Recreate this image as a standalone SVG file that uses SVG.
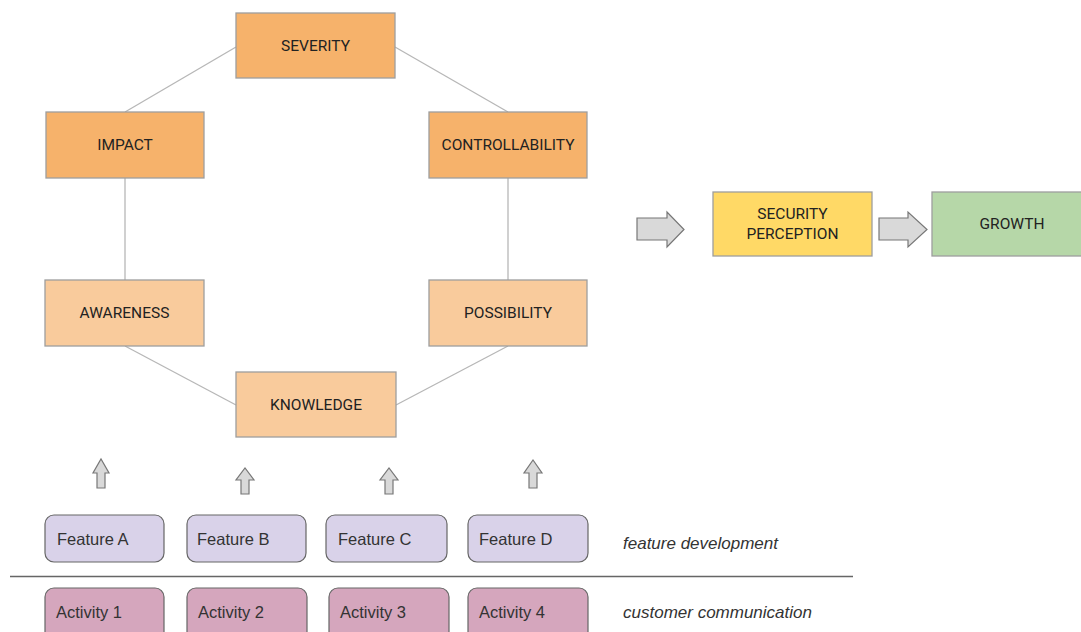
<svg xmlns="http://www.w3.org/2000/svg" width="1081" height="632" viewBox="0 0 1081 632">
<style>
.box{stroke:#9e9e9e;stroke-width:1.3}
.o1{fill:#f6b26b}
.o2{fill:#f9cb9c}
.y{fill:#ffd966}
.g{fill:#b6d7a8}
.f{fill:#d9d2e9;stroke:#666;stroke-width:1.2}
.a{fill:#d5a6bd;stroke:#666;stroke-width:1.2}
.lbl{font-family:Roboto,"Liberation Sans",sans-serif;font-size:15.5px;fill:#222;text-anchor:middle}
.ft{font-family:"Liberation Sans",Arial,sans-serif;font-size:16.5px;fill:#333}
.it{font-family:"Liberation Sans",Arial,sans-serif;font-size:17px;font-style:italic;fill:#333}
.conn{stroke:#b7b7b7;stroke-width:1.3;fill:none}
.barrow{fill:#d9d9d9;stroke:#777;stroke-width:1.2}
</style>
<rect width="1081" height="632" fill="#fff"/>
<g id="connectors">
<line class="conn" x1="125" y1="112" x2="236" y2="47"/>
<line class="conn" x1="395" y1="47" x2="508" y2="112"/>
<line class="conn" x1="125" y1="178" x2="125" y2="280"/>
<line class="conn" x1="508" y1="178" x2="508" y2="280"/>
<line class="conn" x1="125" y1="346" x2="236" y2="405"/>
<line class="conn" x1="396" y1="405" x2="508" y2="346"/>
</g>
<g id="arrows">
<path class="barrow" d="M637,218 H667 V212 L684,229.5 L667,247 V240 H637 Z"/>
<path class="barrow" d="M879,218 H908 V212 L927,229.5 L908,247 V240 H879 Z"/>
<path class="barrow" d="M97,488 V473 H93 L101,459 L109,473 H105 V488 Z"/>
<path class="barrow" d="M241,494 V480 H236 L245,468 L254,480 H249 V494 Z"/>
<path class="barrow" d="M385,494 V480 H380 L389,468 L398,480 H393 V494 Z"/>
<path class="barrow" d="M529,488 V473 H524 L533,460 L542,473 H537 V488 Z"/>
</g>
<g id="severity"><rect class="box o1" x="236" y="13" width="159" height="65"/><text class="lbl" x="315.5" y="51">SEVERITY</text></g>
<g id="impact"><rect class="box o1" x="46" y="112" width="158" height="66"/><text class="lbl" x="125" y="150">IMPACT</text></g>
<g id="controllability"><rect class="box o1" x="429" y="112" width="158" height="66"/><text class="lbl" x="508" y="150">CONTROLLABILITY</text></g>
<g id="awareness"><rect class="box o2" x="45" y="280" width="159" height="66"/><text class="lbl" x="124.5" y="318">AWARENESS</text></g>
<g id="possibility"><rect class="box o2" x="429" y="280" width="158" height="66"/><text class="lbl" x="508" y="318">POSSIBILITY</text></g>
<g id="knowledge"><rect class="box o2" x="236" y="372" width="160" height="65"/><text class="lbl" x="316" y="410">KNOWLEDGE</text></g>
<g id="security-perception"><rect class="box y" x="713" y="192" width="159" height="64"/><text class="lbl" x="792.5" y="219">SECURITY</text><text class="lbl" x="792.5" y="239">PERCEPTION</text></g>
<g id="growth"><rect class="box g" x="932" y="192" width="152" height="64"/><text class="lbl" x="1012" y="229">GROWTH</text></g>
<g id="feature-a"><rect class="f" x="45" y="515" width="119" height="47" rx="9"/><text class="ft" x="57" y="545">Feature A</text></g>
<g id="feature-b"><rect class="f" x="187" y="515" width="119" height="47" rx="9"/><text class="ft" x="197" y="545">Feature B</text></g>
<g id="feature-c"><rect class="f" x="326" y="515" width="121" height="47" rx="9"/><text class="ft" x="338" y="545">Feature C</text></g>
<g id="feature-d"><rect class="f" x="468" y="515" width="120" height="47" rx="9"/><text class="ft" x="479" y="545">Feature D</text></g>
<line x1="10" y1="576.5" x2="853" y2="576.5" stroke="#666" stroke-width="1.3"/>
<g id="activity-1"><rect class="a" x="45" y="588" width="119" height="55" rx="9"/><text class="ft" x="56" y="618">Activity 1</text></g>
<g id="activity-2"><rect class="a" x="187" y="588" width="120" height="55" rx="9"/><text class="ft" x="198" y="618">Activity 2</text></g>
<g id="activity-3"><rect class="a" x="329" y="588" width="120" height="55" rx="9"/><text class="ft" x="340" y="618">Activity 3</text></g>
<g id="activity-4"><rect class="a" x="468" y="588" width="120" height="55" rx="9"/><text class="ft" x="479" y="618">Activity 4</text></g>
<text class="it" x="623" y="549">feature development</text>
<text class="it" x="623" y="618">customer communication</text>
</svg>
